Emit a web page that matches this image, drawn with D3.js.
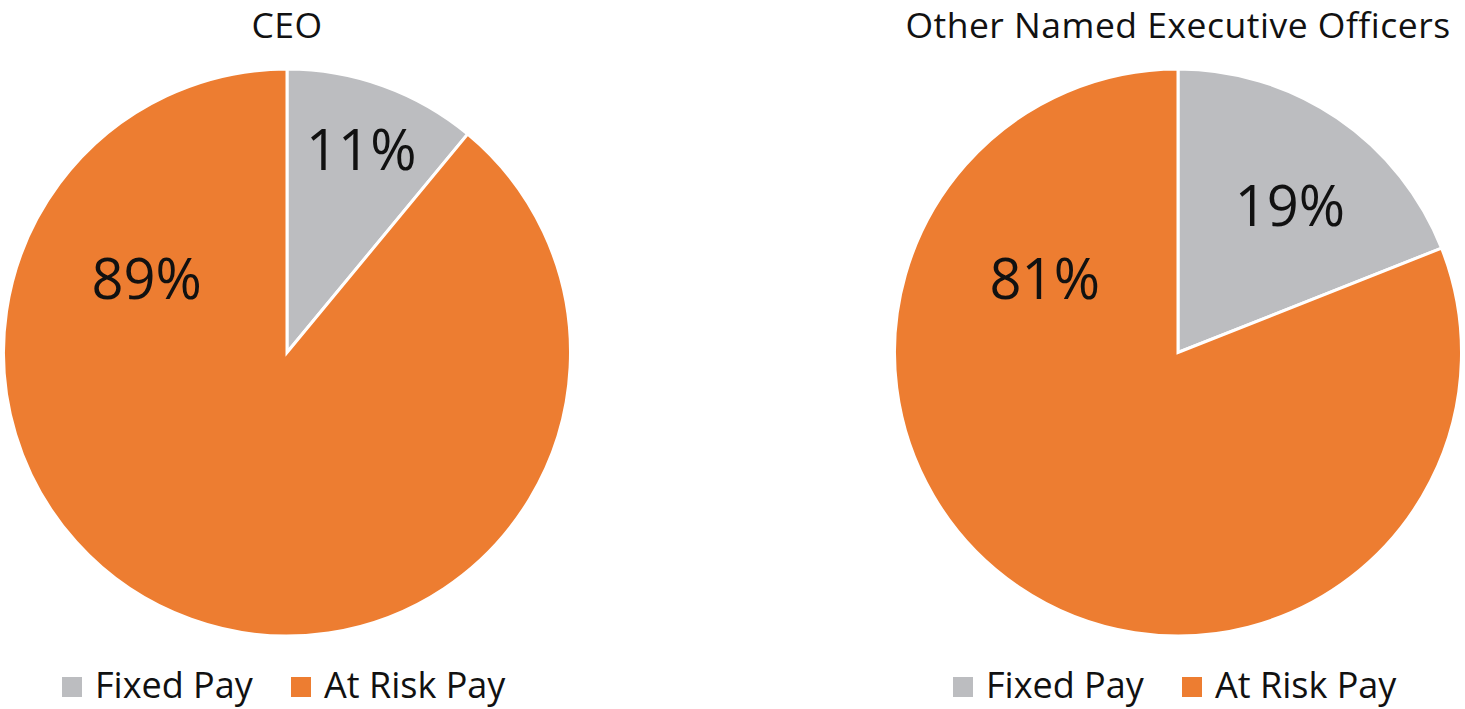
<!DOCTYPE html>
<html><head><meta charset="utf-8">
<script src="https://cdn.jsdelivr.net/npm/d3@7"></script>
<style>html,body{margin:0;padding:0;background:#fff;}svg{display:block;}</style>
</head><body>
<svg id="chart" width="1465" height="709"></svg>
<script>
// ---- data ----
const chartTitles = ["CEO", "Other Named Executive Officers"];
const categories = ["Fixed Pay", "At Risk Pay"];
const ceoValues = [11, 89];
const otherNeoValues = [19, 81];
const colors = ["#BCBDC0", "#ED7D31"];

const svg = d3.select("#chart");
const font = "'Open Sans', sans-serif";
const radius = 283.5;
const panels = [
  {title: chartTitles[0], values: ceoValues, cx: 287, cy: 352.5,
   labelOffsets: [[0.262, -0.722], [-0.495, -0.265]]},
  {title: chartTitles[1], values: otherNeoValues, cx: 1178, cy: 352.5,
   labelOffsets: [[0.395, -0.525], [-0.47, -0.268]]}
];

const pie = d3.pie().sort(null).value(d => d);
const arc = d3.arc().innerRadius(0).outerRadius(radius);

panels.forEach(p => {
  const g = svg.append("g").attr("transform", `translate(${p.cx},${p.cy})`);
  const arcs = pie(p.values);
  g.selectAll("path").data(arcs).join("path")
    .attr("d", arc)
    .attr("fill", (d, i) => colors[i])
    .attr("stroke", "#fff")
    .attr("stroke-width", 3)
    .attr("stroke-linejoin", "miter");
  g.selectAll("text.lbl").data(arcs).join("text")
    .attr("class", "lbl")
    .attr("x", (d, i) => p.labelOffsets[i][0] * radius)
    .attr("y", (d, i) => p.labelOffsets[i][1] * radius)
    .attr("text-anchor", "middle")
    .attr("dominant-baseline", "central")
    .attr("font-family", font)
    .attr("font-size", 56)
    .attr("fill", "#111")
    .text(d => d.data + "%");
  // title
  svg.append("text")
    .attr("x", p.cx).attr("y", 38)
    .attr("text-anchor", "middle")
    .attr("font-family", font).attr("font-size", 35.5)
    .attr("letter-spacing", 0.5).attr("fill", "#111")
    .text(p.title);
  // legend
  const lg = svg.append("g").attr("transform", `translate(${p.cx - 225},0)`);
  const legendX = [0, 229];
  categories.forEach((c, i) => {
    lg.append("rect").attr("x", legendX[i]).attr("y", 677)
      .attr("width", 20).attr("height", 20).attr("fill", colors[i]);
    lg.append("text").attr("x", legendX[i] + 33).attr("y", 698)
      .attr("font-family", font).attr("font-size", 36).attr("fill", "#111")
      .text(c);
  });
});
</script>
</body></html>
